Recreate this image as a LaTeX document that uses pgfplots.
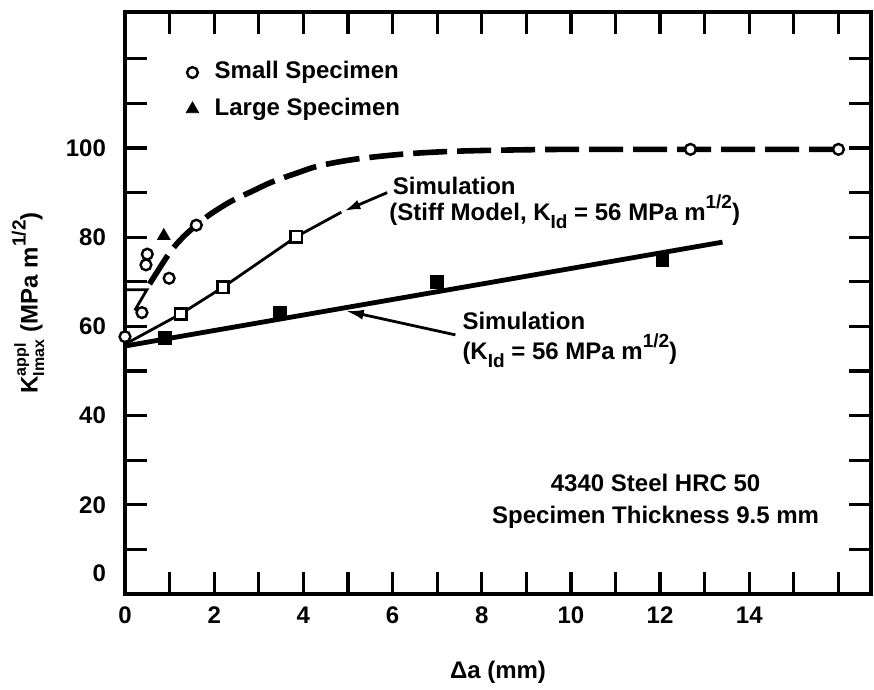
\documentclass[border=0pt]{standalone}
\usepackage{amsmath}
\usepackage{fontspec}
\setmainfont{Liberation Sans}
\usepackage{pgfplots}
\pgfplotsset{compat=1.18}
\usetikzlibrary{arrows.meta}

\newcommand{\lbl}{\fontsize{12}{14.5}\selectfont\bfseries}
\newcommand{\sub}[1]{\raisebox{-0.32em}{\fontsize{9.5}{10}\selectfont\bfseries #1}}
\newcommand{\sups}[1]{\raisebox{0.5em}{\fontsize{9.5}{10}\selectfont\bfseries #1}}

\begin{document}
\begin{tikzpicture}[font=\lbl]
\begin{axis}[
  scale only axis,
  width=373pt, height=291pt,
  xmin=0, xmax=16.73, ymin=0, ymax=130.5,
  xtick={0,2,...,14}, minor xtick={1,3,5,7,9,11,13,15,16},
  ytick={0,20,...,100}, minor ytick={10,30,50,70,90,110,120},
  yticklabels={\raisebox{6pt}[0pt][0pt]{0},20,40,60,80,100},
  tick align=inside,
  major tick length=11pt, minor tick length=11pt,
  tick style={line width=1.6pt, black},
  axis line style={line width=2pt},
  /pgf/number format/assume math mode=true,
  tick label style={font=\lbl},
  yticklabel style={xshift=-6pt},
  xticklabel style={yshift=-3pt},
  label style={font=\lbl},
  xlabel={Δa (mm)},
  ylabel={K$^{\text{appl}}_{\text{Imax}}$ (MPa m\sups{1/2})},
  xlabel style={at={(axis description cs:0.5,-0.134)}, anchor=center},
  ylabel style={at={(axis description cs:-0.13,0.5)}, anchor=center},
  clip=false,
  legend image code/.code={\draw[mark repeat=2,mark phase=2,#1] plot coordinates {(0cm,0cm)(0.2cm,0cm)(0.4cm,0cm)};},
  legend style={draw=none, fill=none, font=\lbl, at={(axis cs:1.23,121.5)}, anchor=north west,
    row sep=2.3pt, /tikz/column sep=6pt, nodes={inner sep=2pt, text height=9pt, text depth=3pt}},
  legend cell align=left,
]
% small specimen fit (dashed)
\addplot[forget plot, line width=2.8pt, dash pattern=on 17pt off 5pt, smooth, tension=0.5] coordinates {
  (0.55,69.5) (1.0,76.5) (1.3,80.0) (1.6,82.7) (1.92,85.2) (2.37,88.0) (2.85,90.3)
  (3.3,92.4) (3.83,94.3) (4.35,96.0) (5.17,97.5) (6.2,98.6) (7.2,99.2) (8.3,99.5)
  (10.0,99.7) (12.68,99.7) (16.0,99.7)};
% simulation, K_Id = 56
\addplot[forget plot, line width=2.4pt] coordinates {(0,55.6) (13.4,78.9)};
\addplot[forget plot, only marks, mark=square*, mark size=3.2pt, black] coordinates {
  (0.9,57.4) (3.48,63.0) (7.0,70.0) (12.05,75.0)};
% simulation, stiff model
\addplot[forget plot, line width=1.4pt] coordinates {
  (0,56.0) (1.25,62.8) (2.2,68.8) (3.84,80.1) (4.85,85.6)};
\addplot[forget plot, only marks, mark=square*, mark size=2.8pt,
  mark options={fill=white, draw=black, line width=1.2pt}] coordinates {
  (1.25,62.8) (2.2,68.8) (3.84,80.1)};
% measurements
\addplot[only marks, mark=*, mark size=2.7pt,
  mark options={fill=white, draw=black, line width=1.2pt}] coordinates {
  (0,57.7) (0.38,63.1) (0.47,73.8) (0.5,76.2) (0.99,70.8) (1.6,82.7) (12.68,99.7) (16.0,99.7)};
\addlegendentry{Small Specimen}
\addplot[only marks, mark=triangle*, mark size=3.6pt, black] coordinates {(0.87,80.3)};
\addlegendentry{Large Specimen}

\draw[line width=1.4pt] (axis cs:0,68.2) -- (axis cs:0.49,68.2) -- (axis cs:0.22,63.6);
\draw[line width=1.4pt, -{Latex[length=8pt,width=5pt]}] (axis cs:5.88,90.0) -- (axis cs:4.92,85.9);
\draw[line width=1.4pt, -{Latex[length=9pt,width=5pt]}] (axis cs:7.41,58.1) -- (axis cs:4.95,63.5);

\node[anchor=base west, inner sep=0pt] at (axis cs:6.0,89.5) {Simulation};
\node[anchor=base west, inner sep=0pt] at (axis cs:5.92,83.7) {(Stiff Model, K\sub{Id} = 56 MPa m\sups{1/2})};
\node[anchor=base west, inner sep=0pt] at (axis cs:7.56,59.2) {Simulation};
\node[anchor=base west, inner sep=0pt] at (axis cs:7.56,52.5) {(K\sub{Id} = 56 MPa m\sups{1/2})};
\node[anchor=base, inner sep=0pt] at (axis cs:11.9,22.9) {4340 Steel HRC 50};
\node[anchor=base, inner sep=0pt] at (axis cs:11.9,15.9) {Specimen Thickness 9.5 mm};
\end{axis}
\pgfresetboundingbox
\path[use as bounding box] (-62.5pt,-48pt) rectangle (374.5pt,297pt);
\end{tikzpicture}
\end{document}
